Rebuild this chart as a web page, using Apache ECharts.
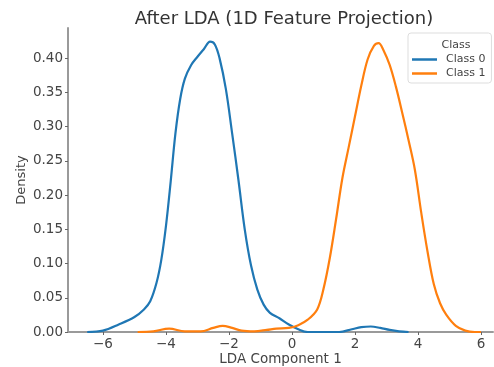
<!DOCTYPE html>
<html>
<head>
<meta charset="utf-8">
<script src="https://cdn.jsdelivr.net/npm/echarts@6/dist/echarts.min.js"></script>
<style>
  html, body { margin: 0; padding: 0; background: #fff; }
  #chart { width: 494px; height: 367px; }
</style>
</head>
<body>
<div id="chart"></div>
<script>
// KDE
var class0X = [-6.5, -6.0, -5.5, -5.0, -4.7, -4.5, -4.3, -4.15, -4.0, -3.85, -3.7, -3.55, -3.4, -3.2, -3.0, -2.8, -2.6, -2.45, -2.3, -2.1, -1.9, -1.7, -1.5, -1.3, -1.1, -0.9, -0.7, -0.4, -0.1, 0.2, 0.5, 1.0, 1.5, 1.9, 2.2, 2.5, 2.8, 3.1, 3.4, 3.7];
var class0Y = [0, 0.002, 0.011, 0.022, 0.033, 0.045, 0.072, 0.105, 0.155, 0.22, 0.29, 0.34, 0.37, 0.39, 0.402, 0.413, 0.424, 0.42, 0.40, 0.355, 0.29, 0.222, 0.15, 0.097, 0.062, 0.04, 0.028, 0.02, 0.011, 0.004, 0, 0, 0, 0.004, 0.007, 0.008, 0.006, 0.003, 0.001, 0];

var class1X = [-4.9, -4.4, -3.9, -3.4, -2.9, -2.5, -2.2, -1.9, -1.6, -1.2, -0.8, -0.5, -0.1, 0.2, 0.5, 0.8, 1.0, 1.2, 1.4, 1.6, 1.8, 2.0, 2.2, 2.4, 2.6, 2.75, 2.9, 3.1, 3.3, 3.5, 3.7, 3.9, 4.1, 4.3, 4.5, 4.7, 4.9, 5.2, 5.5, 5.8, 6.0];
var class1Y = [0, 0.001, 0.005, 0.001, 0.001, 0.006, 0.009, 0.006, 0.002, 0.001, 0.003, 0.005, 0.006, 0.01, 0.018, 0.033, 0.063, 0.108, 0.165, 0.225, 0.27, 0.315, 0.36, 0.398, 0.418, 0.422, 0.412, 0.39, 0.358, 0.32, 0.28, 0.237, 0.175, 0.118, 0.07, 0.042, 0.025, 0.009, 0.002, 0, 0];

var xTicks = [-6, -4, -2, 0, 2, 4, 6];
var yTicks = [0, 0.05, 0.10, 0.15, 0.20, 0.25, 0.30, 0.35, 0.40];

function pairs(xs, ys) {
    var out = [];
    for (var i = 0; i < xs.length; i++) {
        out.push([xs[i], ys[i]]);
    }
    return out;
}

var font = 'DejaVu Sans';
var axisGray = '#9a9a9a';
var labelGray = '#444';

var myChart = echarts.init(document.getElementById('chart'));
var option = {
    animation: false,
    title: [{
        text: 'After LDA (1D Feature Projection)',
        left: 279, top: 5,
        textAlign: 'center',
        textStyle: { fontFamily: font, fontSize: 18, fontWeight: 'normal', color: '#333' }
    }, {
        text: 'Class',
        left: 451, top: 35,
        textAlign: 'center',
        textStyle: { fontFamily: font, fontSize: 11, fontWeight: 'normal', color: '#444' }
    }],
    legend: {
        orient: 'vertical',
        left: 408, top: 33,
        width: 84,
        padding: [21, 6, 4, 4],
        itemGap: 3,
        itemWidth: 25,
        itemHeight: 2.5,
        icon: 'rect',
        borderColor: '#dddddd',
        borderWidth: 1,
        borderRadius: 3,
        textStyle: { fontFamily: font, fontSize: 11, color: '#444', padding: [0, 0, 0, 4] },
        data: ['Class 0', 'Class 1']
    },
    grid: { left: 68, top: 28, right: 1, bottom: 35, containLabel: false, outerBoundsMode: 'none' },
    xAxis: {
        type: 'value',
        min: -7.11, max: 6.38,
        name: 'LDA Component 1',
        nameLocation: 'middle',
        nameGap: 20,
        nameMoveOverlap: false,
        nameTextStyle: { fontFamily: font, fontSize: 13.5, color: labelGray },
        splitLine: { show: false },
        axisLine: { show: true, onZero: false, lineStyle: { color: axisGray, width: 2 } },
        axisTick: { show: true, customValues: xTicks, length: 3, lineStyle: { color: '#666' } },
        axisLabel: {
            customValues: xTicks,
            fontFamily: font, fontSize: 13.5, color: labelGray, margin: 5,
            formatter: function (v) { return v < 0 ? '\u2212' + Math.abs(v) : String(v); }
        }
    },
    yAxis: {
        type: 'value',
        min: 0, max: 0.444,
        name: 'Density',
        nameLocation: 'middle',
        nameGap: 40,
        nameMoveOverlap: false,
        nameTextStyle: { fontFamily: font, fontSize: 13, color: labelGray },
        splitLine: { show: false },
        axisLine: { show: true, onZero: false, lineStyle: { color: axisGray, width: 2 } },
        axisTick: { show: true, customValues: yTicks, length: 3, lineStyle: { color: '#666' } },
        axisLabel: {
            customValues: yTicks,
            fontFamily: font, fontSize: 13.5, color: labelGray, margin: 5,
            formatter: function (v) { return v.toFixed(2); }
        }
    },
    series: [{
        name: 'Class 0',
        type: 'line',
        data: pairs(class0X, class0Y),
        showSymbol: false,
        smooth: 0.35,
        itemStyle: { color: '#1f77b4' },
        lineStyle: { color: '#1f77b4', width: 2.2 }
    }, {
        name: 'Class 1',
        type: 'line',
        data: pairs(class1X, class1Y),
        showSymbol: false,
        smooth: 0.35,
        itemStyle: { color: '#ff7f0e' },
        lineStyle: { color: '#ff7f0e', width: 2.2 }
    }]
};
myChart.setOption(option);
</script>
</body>
</html>
